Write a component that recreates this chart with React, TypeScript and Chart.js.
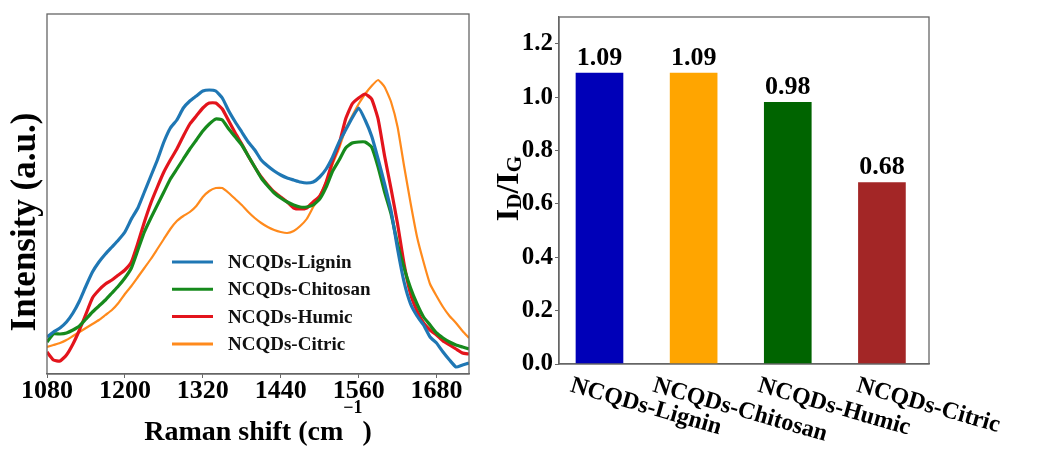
import React, { useEffect, useRef } from 'react';
import { Chart, registerables } from 'chart.js';

Chart.register(...registerables);

// ---------- Left panel: Raman spectra ----------
const wavenumbers = [
  1080, 1090, 1100, 1110, 1120, 1130, 1140, 1150, 1160, 1170, 1180, 1190, 1200,
  1210, 1220, 1230, 1240, 1250, 1260, 1270, 1280, 1290, 1300, 1310, 1320, 1330,
  1340, 1350, 1360, 1370, 1380, 1390, 1400, 1410, 1420, 1430, 1440, 1450, 1460,
  1470, 1480, 1490, 1500, 1510, 1520, 1530, 1540, 1550, 1560, 1570, 1580, 1590,
  1600, 1610, 1620, 1630, 1640, 1650, 1660, 1670, 1680, 1690, 1700, 1710, 1720, 1730,
];

const ligninIntensity = [
  37, 42, 46, 52, 61, 73, 88, 102, 112, 120, 127, 134, 142,
  155, 166, 182, 198, 214, 232, 246, 254, 266, 273, 278, 283, 284,
  283, 276, 263, 252, 242, 232, 224, 214, 208, 203, 199, 196, 194,
  192, 191, 192, 197, 205, 217, 232, 244, 256, 266, 254, 238, 215,
  190, 163, 125, 92, 70, 58, 49, 37, 31, 22, 14, 7, 9, 11,
];

const chitosanIntensity = [
  32, 40, 40, 41, 44, 48, 55, 62, 68, 74, 81, 88, 96,
  106, 124, 142, 156, 169, 182, 195, 205, 215, 225, 234, 243, 250,
  255, 254, 245, 237, 229, 218, 207, 196, 188, 181, 176, 172, 169,
  167, 167, 169, 175, 187, 203, 214, 226, 231, 232, 232, 227, 207,
  182, 160, 130, 106, 86, 70, 57, 49, 41, 36, 32, 29, 27, 25,
];

const humicIntensity = [
  22, 14, 13, 19, 30, 44, 60, 76, 84, 90, 94, 99, 104,
  112, 131, 152, 171, 187, 202, 214, 225, 238, 250, 258, 266, 271,
  271, 265, 253, 241, 230, 218, 207, 197, 189, 182, 177, 172, 166,
  165, 166, 172, 178, 192, 213, 230, 255, 270, 276, 280, 275, 255,
  218, 185, 150, 110, 80, 63, 51, 44, 39, 33, 29, 25, 21, 20,
];

const citricIntensity = [
  27, 29, 31, 34, 38, 42, 46, 50, 54, 59, 64, 71, 80,
  88, 97, 106, 115, 125, 135, 145, 153, 158, 162, 168, 177, 183,
  186, 186, 181, 175, 169, 162, 156, 151, 147, 144, 142, 141, 143,
  148, 155, 167, 178, 192, 210, 226, 245, 258, 270, 280, 288, 294,
  287, 272, 247, 208, 171, 137, 112, 90, 78, 67, 58, 51, 43, 36,
];

const seriesNames = ['NCQDs-Lignin', 'NCQDs-Chitosan', 'NCQDs-Humic', 'NCQDs-Citric'];
const seriesColors = ['#1f77b4', '#168a1c', '#e3141c', '#ff8a1c'];
const seriesWidths = [3.2, 3.2, 3.2, 2.2];
const ramanTicks = [1080, 1200, 1320, 1440, 1560, 1680];

// ---------- Right panel: ID/IG ratios ----------
const barCategories = ['NCQDs-Lignin', 'NCQDs-Chitosan', 'NCQDs-Humic', 'NCQDs-Citric'];
const ratioValues = [1.09, 1.09, 0.98, 0.68];
const ratioLabels = ['1.09', '1.09', '0.98', '0.68'];
const barColors = ['#0000b8', '#ffa500', '#006400', '#a32626'];
const ratioTicks = [0.0, 0.2, 0.4, 0.6, 0.8, 1.0, 1.2];

const SERIF = '"Liberation Serif", "Times New Roman", serif';
const FRAME = '#666666';

const framePlugin = {
  id: 'frameBox',
  afterDatasetsDraw(chart: any) {
    const { ctx, chartArea: a } = chart;
    ctx.save();
    ctx.strokeStyle = FRAME;
    ctx.lineWidth = 1.3;
    ctx.strokeRect(a.left, a.top, a.right - a.left, a.bottom - a.top);
    ctx.restore();
  },
};

const spectraDecor = {
  id: 'spectraDecor',
  afterDraw(chart: any) {
    const { ctx, chartArea: a } = chart;
    ctx.save();
    // legend
    const legendTop = 262;
    const legendStep = 27.3;
    seriesNames.forEach((name, i) => {
      const y = legendTop + i * legendStep;
      ctx.strokeStyle = seriesColors[i];
      ctx.lineWidth = 3;
      ctx.beginPath();
      ctx.moveTo(172, y);
      ctx.lineTo(213, y);
      ctx.stroke();
      ctx.fillStyle = '#111';
      ctx.font = `bold 19px ${SERIF}`;
      ctx.textAlign = 'left';
      ctx.textBaseline = 'middle';
      ctx.fillText(name, 228, y + 1);
    });
    // x title with superscript
    const main = 'Raman shift (cm';
    const sup = '\u22121';
    const close = ')';
    ctx.fillStyle = '#000';
    ctx.textBaseline = 'alphabetic';
    ctx.textAlign = 'left';
    ctx.font = `bold 28px ${SERIF}`;
    const w1 = ctx.measureText(main).width;
    const w3 = ctx.measureText(close).width;
    ctx.font = `bold 18px ${SERIF}`;
    const w2 = ctx.measureText(sup).width;
    const total = w1 + w2 + w3;
    const x0 = (a.left + a.right) / 2 - total / 2;
    const base = 440;
    ctx.font = `bold 28px ${SERIF}`;
    ctx.fillText(main, x0, base);
    ctx.fillText(close, x0 + w1 + w2, base);
    ctx.font = `bold 18px ${SERIF}`;
    ctx.fillText(sup, x0 + w1, base - 27);
    // y title
    ctx.translate(35, 222);
    ctx.rotate(-Math.PI / 2);
    ctx.font = `bold 35px ${SERIF}`;
    ctx.textAlign = 'center';
    ctx.fillText('Intensity (a.u.)', 0, 0);
    ctx.restore();
  },
};

const barDecor = {
  id: 'barDecor',
  afterDraw(chart: any) {
    const { ctx } = chart;
    const meta = chart.getDatasetMeta(0);
    const xScale = chart.scales.x;
    ctx.save();
    ctx.fillStyle = '#000';
    // value labels
    ctx.font = `bold 26px ${SERIF}`;
    ctx.textAlign = 'center';
    ctx.textBaseline = 'alphabetic';
    meta.data.forEach((el: any, i: number) => {
      ctx.fillText(ratioLabels[i], el.x, el.y - 8);
    });
    // rotated category labels
    const ang = (16 * Math.PI) / 180;
    ctx.font = `bold 24px ${SERIF}`;
    barCategories.forEach((label, i) => {
      const bx = xScale.getPixelForValue(i);
      const L = ctx.measureText(label).width;
      const capH = 17;
      const bboxH = L * Math.sin(ang) + capH * Math.cos(ang);
      const cx = bx + 47;
      const cy = 375 + bboxH / 2;
      const px = cx - (capH / 2) * Math.sin(ang);
      const py = cy + (capH / 2) * Math.cos(ang);
      ctx.save();
      ctx.translate(px, py);
      ctx.rotate(ang);
      ctx.textAlign = 'center';
      ctx.textBaseline = 'alphabetic';
      ctx.fillText(label, 0, 0);
      ctx.restore();
    });
    // y title I_D/I_G
    ctx.save();
    ctx.translate(28, 188.5);
    ctx.rotate(-Math.PI / 2);
    const parts: [string, number, number][] = [
      ['I', 32, 0],
      ['D', 21, 3],
      ['/', 32, 0],
      ['I', 32, 0],
      ['G', 21, 3],
    ];
    let totalW = 0;
    parts.forEach(([t, s]) => {
      ctx.font = `bold ${s}px ${SERIF}`;
      totalW += ctx.measureText(t).width;
    });
    let x = -totalW / 2;
    ctx.textAlign = 'left';
    parts.forEach(([t, s, dy]) => {
      ctx.font = `bold ${s}px ${SERIF}`;
      ctx.fillText(t, x, dy);
      x += ctx.measureText(t).width;
    });
    ctx.restore();
    ctx.restore();
  },
};

export default function App() {
  const leftRef = useRef<HTMLCanvasElement>(null);
  const rightRef = useRef<HTMLCanvasElement>(null);

  useEffect(() => {
    const spectra = [ligninIntensity, chitosanIntensity, humicIntensity, citricIntensity];
    const left = new Chart(leftRef.current as HTMLCanvasElement, {
      type: 'line',
      data: {
        datasets: spectra.map((vals, i) => ({
          label: seriesNames[i],
          data: wavenumbers.map((w, j) => ({ x: w, y: vals[j] })),
          borderColor: seriesColors[i],
          borderWidth: seriesWidths[i],
          pointRadius: 0,
          tension: 0.15,
          fill: false,
        })),
      },
      options: {
        animation: false,
        responsive: false,
        layout: { padding: { left: 47, right: 51, top: 14, bottom: 0 } },
        plugins: { legend: { display: false }, tooltip: { enabled: false } },
        scales: {
          x: {
            type: 'linear',
            min: 1080,
            max: 1730,
            grid: { drawOnChartArea: false, drawTicks: true, tickLength: 4, color: FRAME },
            border: { display: true, color: FRAME, width: 1.3 },
            afterBuildTicks: (scale: any) => {
              scale.ticks = ramanTicks.map((v) => ({ value: v }));
            },
            afterFit: (scale: any) => {
              scale.height = 82;
            },
            ticks: {
              autoSkip: false,
              maxRotation: 0,
              padding: -2,
              color: '#000',
              font: { family: SERIF, size: 26, weight: 'bold' },
              callback: (v: any) => String(v),
            },
          },
          y: { display: false, min: 0, max: 360 },
        },
      },
      plugins: [framePlugin, spectraDecor],
    } as any);

    const right = new Chart(rightRef.current as HTMLCanvasElement, {
      type: 'bar',
      data: {
        datasets: [
          {
            label: 'ID/IG',
            data: ratioValues.map((v, i) => ({ x: i, y: v })),
            backgroundColor: barColors,
            borderWidth: 0,
            barThickness: 47,
          },
        ],
      },
      options: {
        animation: false,
        responsive: false,
        layout: { padding: { left: 0, right: 133, top: 13, bottom: 0 } },
        plugins: { legend: { display: false }, tooltip: { enabled: false } },
        scales: {
          x: {
            type: 'linear',
            min: -0.43,
            max: 3.5,
            offset: false,
            grid: { display: false },
            border: { display: true, color: FRAME, width: 1.3 },
            ticks: { display: false },
            afterFit: (scale: any) => {
              scale.height = 92;
            },
          },
          y: {
            min: 0,
            max: 1.3,
            grid: { drawOnChartArea: false, drawTicks: true, tickLength: 4, color: FRAME },
            border: { display: true, color: FRAME, width: 1.3 },
            afterBuildTicks: (scale: any) => {
              scale.ticks = ratioTicks.map((v) => ({ value: v }));
            },
            afterFit: (scale: any) => {
              scale.width = 69;
            },
            ticks: {
              padding: 2,
              color: '#000',
              font: { family: SERIF, size: 25, weight: 'bold' },
              callback: (v: any) => Number(v).toFixed(1),
            },
          },
        },
      },
      plugins: [framePlugin, barDecor],
    } as any);

    return () => {
      left.destroy();
      right.destroy();
    };
  }, []);

  return (
    <div
      style={{
        position: 'fixed',
        left: 0,
        top: 0,
        width: 1062,
        height: 456,
        background: '#fff',
        overflow: 'hidden',
      }}
    >
      <canvas
        ref={leftRef}
        width={520}
        height={456}
        style={{ position: 'absolute', left: 0, top: 0, width: 520, height: 456 }}
      />
      <canvas
        ref={rightRef}
        width={572}
        height={456}
        style={{ position: 'absolute', left: 490, top: 0, width: 572, height: 456 }}
      />
    </div>
  );
}
